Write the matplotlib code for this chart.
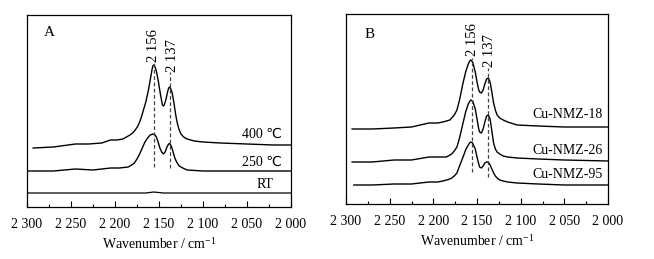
import numpy as np
import matplotlib
matplotlib.use('Agg')
import matplotlib.pyplot as plt
from matplotlib.ticker import FixedLocator, MultipleLocator

plt.rcParams['font.family'] = ['Liberation Serif', 'DejaVu Sans']
plt.rcParams['mathtext.fontset'] = 'stix'

# panel A: CO adsorption at different temperatures (offset intensity, a.u.)
a_400_w = [2293, 2270, 2245, 2230, 2215, 2205, 2198, 2191, 2187, 2183, 2180, 2177, 2174, 2172,
           2170, 2168, 2165, 2162, 2160, 2158, 2157, 2156, 2155, 2153, 2151, 2149, 2147, 2146,
           2145, 2144, 2142, 2140, 2139, 2138, 2137, 2135, 2133, 2131, 2129, 2127, 2125, 2122,
           2118, 2110, 2100, 2080, 2050, 2020, 2000]
a_400_i = [59, 60, 63, 63, 64, 67, 67, 68, 70, 72, 74, 77, 81, 85,
           90, 96, 105, 117, 127, 137, 141, 142, 141, 136, 127, 116, 106, 102,
           101, 102, 108, 116, 119, 120, 119, 114, 104, 92, 83, 77, 73, 70,
           68, 66, 65, 64, 63, 62, 62]
a_250_w = [2300, 2270, 2245, 2225, 2205, 2195, 2185, 2181, 2178, 2175, 2172, 2169, 2166, 2163,
           2160, 2157, 2155, 2153, 2151, 2149, 2147, 2145, 2143, 2141, 2139, 2138, 2136, 2134,
           2132, 2130, 2127, 2123, 2118, 2100, 2050, 2000]
a_250_i = [36, 36, 38, 37, 39, 39, 40, 42, 44, 48, 53, 59, 65, 69,
           72, 73, 72.5, 70, 65, 59, 55, 53, 55, 60, 63, 63.5, 61, 55,
           49, 45, 41, 39, 37, 36, 36, 36]
a_rt_w = [2300, 2200, 2165, 2156, 2145, 2100, 2000]
a_rt_i = [14, 14, 14, 15, 14, 14, 14]

# panel B: different Cu-NMZ samples
b_w = [2185, 2181, 2179, 2176, 2173, 2170, 2166, 2163, 2160, 2158, 2157, 2155, 2152, 2150,
       2148, 2147, 2145, 2143, 2141, 2139, 2137, 2135, 2133, 2131, 2129, 2127, 2124, 2120,
       2115, 2104]
b18_left_w = [2293, 2270, 2245, 2225, 2205, 2195, 2189]
b18_left_i = [75, 75, 76, 77, 81, 81, 82]
b18_i = [83, 84, 86, 89, 94, 104, 121, 132, 140, 143.5, 144, 142, 132, 122,
         114, 112, 111, 114, 120, 125, 126, 122, 112, 101, 94, 89, 86, 84,
         82, 79]
b18_right_w = [2080, 2050, 2000]
b18_right_i = [78, 77, 77]
b26_left_w = [2293, 2270, 2245, 2225, 2205, 2195, 2189]
b26_left_i = [42, 42, 44, 44, 47, 47, 47]
b26_i = [47, 49, 50, 53, 57, 66, 81, 92, 100, 103, 104, 103, 95, 85,
         75, 72, 71, 75, 82, 88, 89, 85, 73, 61, 55, 52, 50, 48,
         47, 46]
b26_right_w = [2080, 2050, 2000]
b26_right_i = [45, 44, 43]
b95_left_w = [2291, 2270, 2245, 2225, 2205, 2195, 2189]
b95_left_i = [19, 19, 20, 20, 22, 22, 23]
b95_i = [24, 25, 26, 28, 31, 38, 47, 54, 59, 61.5, 62, 61, 55, 47,
         40, 37, 36, 38, 41, 42, 42, 39, 35, 31, 28, 26, 24, 23,
         22, 21]
b95_right_w = [2080, 2050, 2000]
b95_right_i = [20, 19, 19]

peaks = [2156, 2137]
peak_labels = ['2 156', '2 137']
xticks = [2300, 2250, 2200, 2150, 2100, 2050, 2000]
xtick_labels = ['2 300', '2 250', '2 200', '2 150', '2 100', '2 050', '2 000']

fig = plt.figure(figsize=(6.54, 2.59), dpi=100)
axA = fig.add_axes([27 / 654, 1 - 207 / 259, 264 / 654, 192 / 259])
axB = fig.add_axes([346 / 654, 1 - 204 / 259, 262 / 654, 190 / 259])


def style(ax, top):
    ax.set_xlim(2300, 2000)
    ax.set_ylim(0, top)
    ax.set_yticks([])
    ax.xaxis.set_major_locator(FixedLocator(xticks))
    ax.set_xticklabels(xtick_labels, fontsize=10)
    ax.xaxis.set_minor_locator(MultipleLocator(25))
    ax.tick_params(axis='x', which='major', direction='in', length=4, width=0.8, pad=8)
    ax.tick_params(axis='x', which='minor', direction='in', length=2, width=0.8)
    for s in ax.spines.values():
        s.set_linewidth(0.9)
    ax.set_xlabel(r'Wavenumber / cm$^{\mathregular{-1}}$', fontsize=10, labelpad=4)


# panel A
style(axA, 192)
axA.plot(a_400_w, a_400_i, color='black', lw=1.0)
axA.plot(a_250_w, a_250_i, color='black', lw=1.0)
axA.plot(a_rt_w, a_rt_i, color='black', lw=0.9)
axA.plot([peaks[0], peaks[0]], [40, 144], color='#444444', lw=0.9, ls=(0, (3, 2)))
axA.plot([peaks[1], peaks[1]], [39, 135], color='#444444', lw=0.9, ls=(0, (3, 2)))
axA.text(peaks[0], 145, peak_labels[0], rotation=90, ha='center', va='bottom', fontsize=10.5)
axA.text(peaks[1] - 2, 135, peak_labels[1], rotation=90, ha='center', va='bottom', fontsize=10.5)
axA.text(2010, 73, '400 ℃', ha='right', va='center', fontsize=10)
axA.text(2010, 45, '250 ℃', ha='right', va='center', fontsize=10)
axA.text(2020, 23, 'RT', ha='right', va='center', fontsize=10)
axA.text(0.065, 0.91, 'A', transform=axA.transAxes, ha='left', va='center', fontsize=11)

# panel B
style(axB, 190)
for lw_, li_, ri_, rw_, rii_ in [(b18_left_w, b18_left_i, b18_i, b18_right_w, b18_right_i),
                                 (b26_left_w, b26_left_i, b26_i, b26_right_w, b26_right_i),
                                 (b95_left_w, b95_left_i, b95_i, b95_right_w, b95_right_i)]:
    axB.plot(lw_ + b_w + rw_, li_ + ri_ + rii_, color='black', lw=1.0)
axB.plot([peaks[0], peaks[0]], [32, 146], color='#444444', lw=0.9, ls=(0, (3, 2)))
axB.plot([peaks[1], peaks[1]], [27, 136], color='#444444', lw=0.9, ls=(0, (3, 2)))
axB.text(peaks[0] - 1, 148, peak_labels[0], rotation=90, ha='center', va='bottom', fontsize=10.5)
axB.text(peaks[1] - 1, 137, peak_labels[1], rotation=90, ha='center', va='bottom', fontsize=10.5)
axB.text(2006, 90, 'Cu-NMZ-18', ha='right', va='center', fontsize=10)
axB.text(2006, 53, 'Cu-NMZ-26', ha='right', va='center', fontsize=10)
axB.text(2006, 29, 'Cu-NMZ-95', ha='right', va='center', fontsize=10)
axB.text(0.07, 0.89, 'B', transform=axB.transAxes, ha='left', va='center', fontsize=11)

fig.savefig('out.png', dpi=100)
